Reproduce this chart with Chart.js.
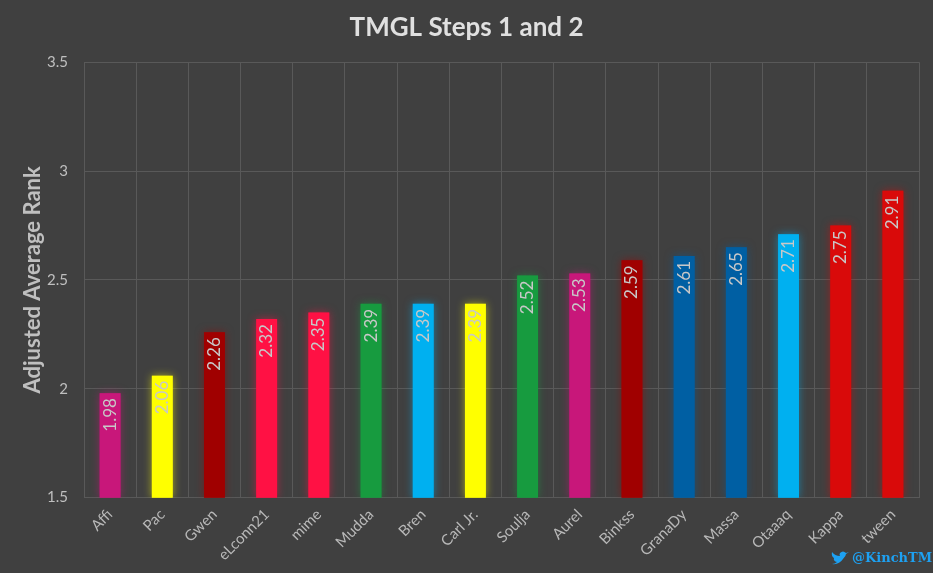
<!DOCTYPE html>
<html><head><meta charset="utf-8">
<script src="https://cdn.jsdelivr.net/npm/chart.js@4.4.1/dist/chart.umd.min.js"></script>
<style>html,body{margin:0;padding:0;background:#404040;}#wrap{width:933px;height:573px;position:relative;}</style>
</head><body><div id="wrap"><canvas id="c" width="933" height="573"></canvas></div>
<script>
const categories = ["Affi","Pac","Gwen","eLconn21","mime","Mudda","Bren","Carl Jr.","Soulja","Aurel","Binkss","GranaDy","Massa","Otaaaq","Kappa","tween"];
const values = [1.98,2.06,2.26,2.32,2.35,2.39,2.39,2.39,2.52,2.53,2.59,2.61,2.65,2.71,2.75,2.91];
const barColors = ["#c8177a","#ffff00","#a00000","#ff1144","#ff1144","#179b3f","#00b0f0","#ffff00","#179b3f","#c8177a","#a00000","#005fa3","#005fa3","#00b0f0","#d90a0a","#d90a0a"];
const yTicks = [1.5,2,2.5,3,3.5];

const FONT = "Lato";
const TXT = "#bfbfbf";

const glowPlugin = {
  id:'glow',
  beforeDatasetsDraw(chart){
    const ctx = chart.ctx;
    const a = chart.chartArea;
    const meta = chart.getDatasetMeta(0);
    ctx.save();
    ctx.beginPath();
    ctx.rect(a.left, a.top-20, a.right-a.left, a.bottom-a.top+20);
    ctx.clip();
    meta.data.forEach((bar,i)=>{
      const p = bar.getProps(['x','y','width'],true);
      ctx.shadowColor = barColors[i];
      ctx.shadowBlur = 8;
      ctx.fillStyle = barColors[i];
      ctx.globalAlpha = 0.55;
      ctx.fillRect(p.x-p.width/2, p.y, p.width, a.bottom-p.y);
    });
    ctx.restore();
  },
  afterDatasetsDraw(chart){
    const ctx = chart.ctx;
    const meta = chart.getDatasetMeta(0);
    ctx.save();
    ctx.font = "17px " + FONT;
    ctx.fillStyle = "#c8c8c8";
    ctx.textAlign = "right";
    ctx.textBaseline = "middle";
    meta.data.forEach((bar,i)=>{
      const p = bar.getProps(['x','y'],true);
      ctx.save();
      ctx.translate(p.x, p.y+5);
      ctx.rotate(-Math.PI/2);
      ctx.fillText(values[i].toFixed(2), 0, 0);
      ctx.restore();
    });
    ctx.restore();
  },
  afterDraw(chart){
    const ctx = chart.ctx;
    ctx.save();
    ctx.fillStyle = "#1da1f2";
    ctx.font = "bold 13px 'DejaVu Serif'";
    ctx.textBaseline = "middle";
    ctx.textAlign = "left";
    ctx.fillText("@KinchTM", 852, 559);
    ctx.beginPath();
    const bx = 840, by = 559;
    ctx.moveTo(bx-8, by+5);
    ctx.quadraticCurveTo(bx-1, by+6, bx+3, by);
    ctx.quadraticCurveTo(bx+6, by-3, bx+6, by-5);
    ctx.lineTo(bx+9, by-7);
    ctx.lineTo(bx+6, by-6);
    ctx.quadraticCurveTo(bx+3, by-9, bx, by-6);
    ctx.quadraticCurveTo(bx-1, by-4, bx, by-3);
    ctx.quadraticCurveTo(bx-5, by-3, bx-8, by-7);
    ctx.quadraticCurveTo(bx-9, by-3, bx-6, by-1);
    ctx.quadraticCurveTo(bx-7, by+2, bx-3, by+3);
    ctx.quadraticCurveTo(bx-5, by+5, bx-8, by+5);
    ctx.fill();
    ctx.restore();
  }
};

new Chart(document.getElementById('c'), {
  type:'bar',
  data:{labels:categories, datasets:[{data:values, backgroundColor:barColors, borderWidth:0, barPercentage:0.4, categoryPercentage:1.0}]},
  plugins:[glowPlugin],
  options:{
    responsive:false, animation:false,
    layout:{padding:{left:14,right:14,top:4,bottom:1}},
    plugins:{
      legend:{display:false}, tooltip:{enabled:false},
      title:{display:true, text:"TMGL Steps 1 and 2", color:"#e0e0e0", font:{family:FONT, size:26, weight:'bold'}, padding:{top:8,bottom:19}}
    },
    scales:{
      x:{
        grid:{color:"#595959", offset:true, drawTicks:false},
        border:{color:"#595959"},
        ticks:{color:"#b8b8b8", font:{family:FONT,size:15}, maxRotation:45, minRotation:45, padding:8, autoSkip:false}
      },
      y:{
        min:1.5, max:3.5,
        afterBuildTicks(axis){ axis.ticks = yTicks.map(v=>({value:v})); },
        afterFit(axis){ axis.width = 70; },
        grid:{color:"#595959", drawTicks:false},
        border:{color:"#595959"},
        ticks:{color:TXT, font:{family:FONT,size:15}, padding:16, callback:v=>String(v)},
        title:{display:true, text:"Adjusted Average Rank", color:TXT, font:{family:FONT,size:22,weight:'bold'}, padding:{top:6,bottom:0}}
      }
    }
  }
});
</script></body></html>
